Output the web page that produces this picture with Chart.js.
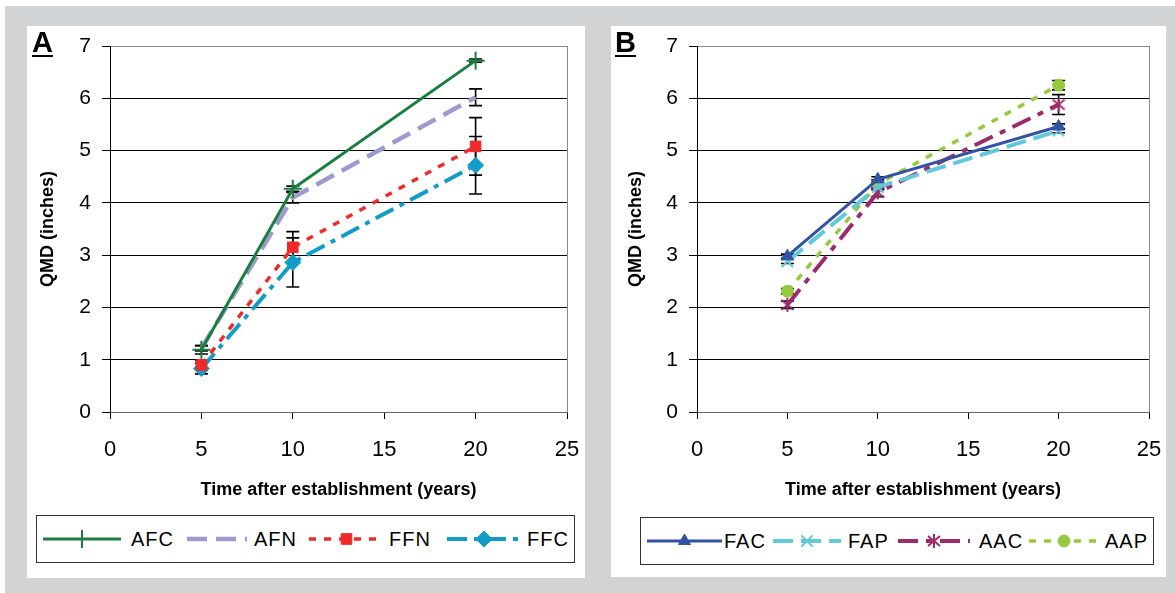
<!DOCTYPE html>
<html lang="en">
<head>
<meta charset="UTF-8" />
<title>QMD by time after establishment</title>

<script src="https://cdn.jsdelivr.net/npm/chart.js"></script>

<style>
  body {
    margin: 0;
    width: 1175px;
    height: 593px;
    background: #fff;
    position: relative;
    overflow: hidden;
    font-family: 'Liberation Sans', Arial, sans-serif;
  }
  .frame {
    position: absolute;
    left: 5px; top: 6px;
    width: 1170px; height: 587px;
    background: #d2d3d5;
  }
  .panel {
    position: absolute;
    top: 26px;
    background: #fff;
  }
  #panelA { left: 27px; width: 558px; height: 552px; }
  #panelB { left: 611px; width: 555px; height: 551px; }
  .panel canvas.chart { position: absolute; left: 0; top: 0; }
  .tag {
    position: absolute;
    top: 0;
    font-size: 29px;
    font-weight: bold;
    text-decoration: underline;
    text-underline-offset: 3px;
  }
  .legend {
    position: absolute;
    border: 1px solid #333;
    height: 46px;
  }
  .legend canvas { position: absolute; top: 13px; }
  .legend span {
    position: absolute;
    top: 0;
    line-height: 46px;
    font-size: 20px;
    letter-spacing: 1px;
  }
</style>
</head>
<body>
  <div class="frame"></div>

  <div class="panel" id="panelA">
    <canvas class="chart" id="chartA" width="558" height="480"></canvas>
    <div class="tag" style="left:5px">A</div>
    <div class="legend" id="legendA" style="left:9px; top:489px; width:537px"></div>
  </div>

  <div class="panel" id="panelB">
    <canvas class="chart" id="chartB" width="555" height="480"></canvas>
    <div class="tag" style="left:4px">B</div>
    <div class="legend" id="legendB" style="left:29px; top:491px; width:512px"></div>
  </div>

<script>
  // --- data (QMD in inches, +/- error) ---
  const years = [5, 10, 20];

  const afc = [1.19, 4.27, 6.72];
  const afcErr = [0.08, 0.05, 0.03];
  const afn = [1.22, 4.1, 6.02];
  const afnErr = [0.05, 0.1, 0.16];
  const ffn = [0.9, 3.15, 5.08];
  const ffnErr = [0.08, 0.3, 0.55];
  const ffc = [0.83, 2.86, 4.72];
  const ffcErr = [0.1, 0.47, 0.55];

  const fac = [2.98, 4.45, 5.46];
  const facErr = [0.04, 0.05, 0.05];
  const fap = [2.88, 4.3, 5.38];
  const fapErr = [0.04, 0.05, 0.04];
  const aac = [2.05, 4.2, 5.88];
  const aacErr = [0.07, 0.08, 0.19];
  const aap = [2.31, 4.36, 6.25];
  const aapErr = [0.05, 0.08, 0.09];

  const xTicks = [0, 5, 10, 15, 20, 25];
  const yTicks = [0, 1, 2, 3, 4, 5, 6, 7];

  Chart.defaults.font.family = "'Liberation Sans', Arial, sans-serif";
  Chart.defaults.color = '#000';

  // six-spoke asterisk marker (X with a vertical bar)
  function asterisk(color) {
    const c = document.createElement('canvas');
    c.width = 16; c.height = 16;
    const g = c.getContext('2d');
    g.strokeStyle = color;
    g.lineWidth = 2;
    g.beginPath();
    g.moveTo(8, 1); g.lineTo(8, 15);
    g.moveTo(2, 3); g.lineTo(14, 13);
    g.moveTo(14, 3); g.lineTo(2, 13);
    g.stroke();
    return c;
  }

  function series(label, values, errors, style) {
    return Object.assign({
      label: label,
      data: values.map((v, i) => ({ x: years[i], y: v })),
      errors: errors,
      showLine: true,
      tension: 0,
      fill: false,
      pointBorderWidth: 1
    }, style);
  }

  // black error bars with caps, drawn under the lines
  const errorBars = {
    id: 'errorBars',
    beforeDatasetsDraw(chart) {
      const { ctx, scales: { x, y } } = chart;
      ctx.save();
      ctx.strokeStyle = '#000';
      ctx.lineWidth = 1.6;
      chart.data.datasets.forEach(ds => {
        ds.data.forEach((p, i) => {
          const e = ds.errors[i];
          const px = x.getPixelForValue(p.x);
          const top = y.getPixelForValue(p.y + e);
          const bot = y.getPixelForValue(p.y - e);
          ctx.beginPath();
          ctx.moveTo(px, top); ctx.lineTo(px, bot);
          ctx.moveTo(px - 6.5, top); ctx.lineTo(px + 6.5, top);
          ctx.moveTo(px - 6.5, bot); ctx.lineTo(px + 6.5, bot);
          ctx.stroke();
        });
      });
      ctx.restore();
    }
  };

  function makeChart(id, datasets, yWidth, padRight, yTitlePad) {
    return new Chart(document.getElementById(id), {
      type: 'scatter',
      data: { datasets: datasets },
      plugins: [errorBars],
      options: {
        responsive: false,
        animation: false,
        layout: { padding: { top: 20, right: padRight, left: 0, bottom: 0 } },
        plugins: { legend: { display: false }, tooltip: { enabled: false } },
        scales: {
          x: {
            type: 'linear',
            min: 0, max: 25,
            afterBuildTicks: s => { s.ticks = xTicks.map(v => ({ value: v })); },
            // fixed axis box so the plot area lands where it should
            afterFit: s => { s.height = 94; s.paddingLeft = 0; s.paddingRight = 0; },
            ticks: { font: { size: 22 }, padding: 18, maxRotation: 0 },
            grid: {
              color: c => (c.tick && c.tick.value === 25) ? '#888' : 'rgba(0,0,0,0)',
              tickColor: '#000',
              tickLength: 7,
              lineWidth: 1
            },
            border: { color: '#666', width: 1 },
            title: {
              display: true,
              text: 'Time after establishment (years)',
              font: { size: 18, weight: 'bold' },
              padding: { top: 0, bottom: 5 }
            }
          },
          y: {
            min: 0, max: 7,
            afterBuildTicks: s => { s.ticks = yTicks.map(v => ({ value: v })); },
            afterFit: s => { s.width = yWidth; s.paddingTop = 0; s.paddingBottom = 0; },
            ticks: { font: { size: 21 }, padding: 11 },
            grid: {
              color: c => {
                const v = c.tick && c.tick.value;
                return v === 7 ? '#888' : (v === 0 ? '#666' : '#000');
              },
              tickColor: '#000',
              tickLength: 8,
              lineWidth: 1
            },
            border: { color: '#000', width: 1 },
            title: {
              display: true,
              text: 'QMD (inches)',
              font: { size: 18, weight: 'bold' },
              padding: { top: yTitlePad, bottom: 0 }
            }
          }
        }
      }
    });
  }

  const chartA = makeChart('chartA', [
    series('AFC', afc, afcErr, {
      borderColor: '#1a7e3f', borderWidth: 3,
      pointStyle: 'cross', pointRadius: 9, pointBorderWidth: 2,
      pointBorderColor: '#1a7e3f', pointBackgroundColor: '#1a7e3f'
    }),
    series('AFN', afn, afnErr, {
      borderColor: '#9b9bcf', borderWidth: 4.5, borderDash: [20, 9],
      pointRadius: 0
    }),
    series('FFN', ffn, ffnErr, {
      borderColor: '#ee2a2a', borderWidth: 3.5, borderDash: [7, 8],
      pointStyle: 'rect', pointRadius: 7.5,
      pointBorderColor: '#ee2a2a', pointBackgroundColor: '#ee2a2a'
    }),
    series('FFC', ffc, ffcErr, {
      borderColor: '#129dc9', borderWidth: 4, borderDash: [20, 7, 5, 7],
      pointStyle: 'rectRot', pointRadius: 8,
      pointBorderColor: '#129dc9', pointBackgroundColor: '#129dc9'
    })
  ], 83, 18, 10);

  const chartB = makeChart('chartB', [
    series('FAC', fac, facErr, {
      borderColor: '#3452a4', borderWidth: 3,
      pointStyle: 'triangle', pointRadius: 7,
      pointBorderColor: '#3452a4', pointBackgroundColor: '#3452a4'
    }),
    series('FAP', fap, fapErr, {
      borderColor: '#62c8dc', borderWidth: 4, borderDash: [20, 8],
      pointStyle: 'crossRot', pointRadius: 8, pointBorderWidth: 2,
      pointBorderColor: '#62c8dc', pointBackgroundColor: '#62c8dc'
    }),
    series('AAC', aac, aacErr, {
      borderColor: '#9b2b6b', borderWidth: 4, borderDash: [20, 8, 6, 8],
      pointStyle: asterisk('#9b2b6b'), pointRadius: 8, pointBorderWidth: 2,
      pointBorderColor: '#9b2b6b', pointBackgroundColor: '#9b2b6b'
    }),
    series('AAP', aap, aapErr, {
      borderColor: '#96c93d', borderWidth: 3.5, borderDash: [7, 8],
      pointStyle: 'circle', pointRadius: 6,
      pointBorderColor: '#96c93d', pointBackgroundColor: '#96c93d'
    })
  ], 86, 17, 14);

  // legend: a line sample with its marker, then the series name
  function buildLegend(boxId, chart, slots) {
    const box = document.getElementById(boxId);
    chart.data.datasets.forEach((ds, i) => {
      const slot = slots[i];
      const c = document.createElement('canvas');
      c.width = slot.w; c.height = 20;
      c.style.left = slot.x + 'px';
      box.appendChild(c);
      const ctx = c.getContext('2d');
      ctx.strokeStyle = ds.borderColor;
      ctx.lineWidth = ds.borderWidth;
      ctx.setLineDash(ds.borderDash || []);
      ctx.beginPath();
      ctx.moveTo(0, 10); ctx.lineTo(slot.w, 10);
      ctx.stroke();
      if (ds.pointRadius > 0) {
        ctx.setLineDash([]);
        ctx.fillStyle = ds.pointBackgroundColor;
        ctx.strokeStyle = ds.pointBorderColor;
        ctx.lineWidth = ds.pointBorderWidth;
        Chart.helpers.drawPoint(ctx, {
          pointStyle: ds.pointStyle, radius: ds.pointRadius, rotation: 0,
          borderWidth: ds.pointBorderWidth
        }, slot.w / 2, 10);
      }
      const t = document.createElement('span');
      t.textContent = ds.label;
      t.style.left = slot.t + 'px';
      box.appendChild(t);
    });
  }

  buildLegend('legendA', chartA, [
    { x: 6, w: 78, t: 94 },
    { x: 150, w: 60, t: 217 },
    { x: 272, w: 75, t: 352 },
    { x: 410, w: 74, t: 490 }
  ]);
  buildLegend('legendB', chartB, [
    { x: 6, w: 75, t: 83 },
    { x: 132, w: 68, t: 207 },
    { x: 257, w: 72, t: 338 },
    { x: 388, w: 70, t: 464 }
  ]);
</script>
</body>
</html>
